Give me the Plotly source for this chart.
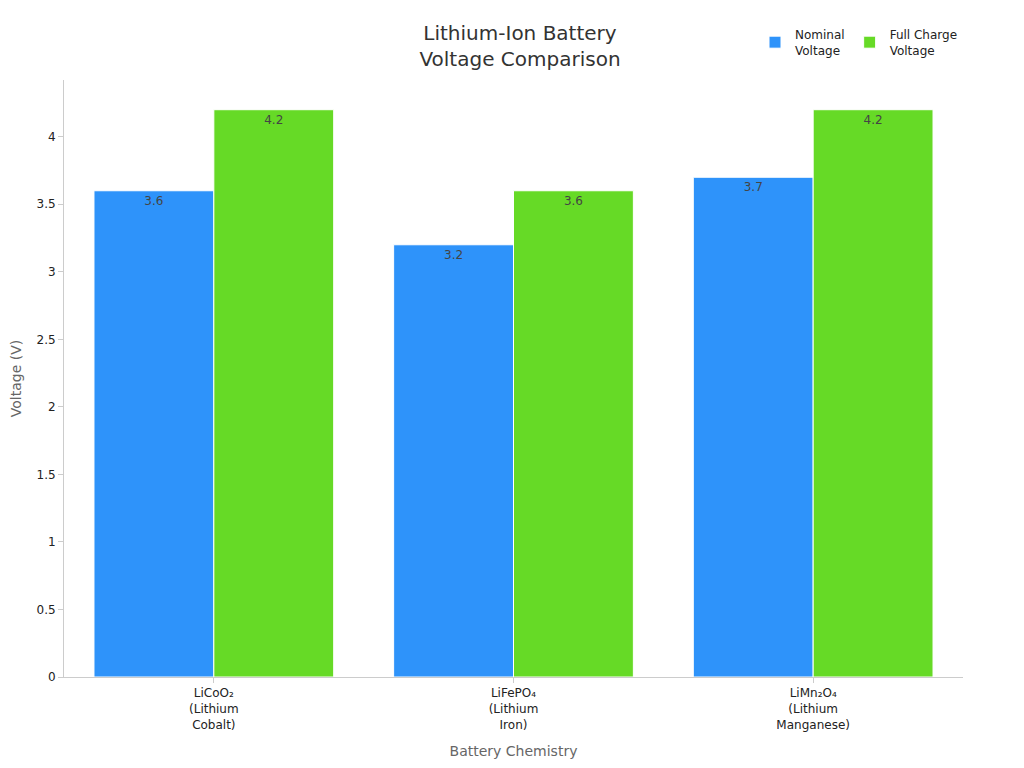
import plotly.graph_objs as go

chemistries = ["LiCoO₂<br>(Lithium<br>Cobalt)", "LiFePO₄<br>(Lithium<br>Iron)", "LiMn₂O₄<br>(Lithium<br>Manganese)"]
nominal_voltage = [3.6, 3.2, 3.7]
full_charge_voltage = [4.2, 3.6, 4.2]

fig = go.Figure()
fig.add_trace(go.Bar(x=chemistries, y=nominal_voltage, name="Nominal<br>Voltage",
                     marker_color="#2E93FA", marker_line_color="white", marker_line_width=1,
                     text=nominal_voltage, textposition="inside", insidetextanchor="end",
                     textfont=dict(color="#444444", size=12)))
fig.add_trace(go.Bar(x=chemistries, y=full_charge_voltage, name="Full Charge<br>Voltage",
                     marker_color="#66DA26", marker_line_color="white", marker_line_width=1,
                     text=full_charge_voltage, textposition="inside", insidetextanchor="end",
                     textfont=dict(color="#444444", size=12)))

fig.update_layout(
    title=dict(text="Lithium-Ion Battery<br>Voltage Comparison", x=0.5, xanchor="center",
               y=0.958, font=dict(size=20, color="#333333")),
    font=dict(family="DejaVu Sans", size=12, color="#222222"),
    barmode="group", bargap=0.2, bargroupgap=0,
    plot_bgcolor="white", paper_bgcolor="white",
    width=1024, height=768,
    margin=dict(l=56, r=69, t=72, b=99, autoexpand=False),
    legend=dict(orientation="h", x=1, xanchor="right", y=1.025, yanchor="bottom",
                font=dict(size=12)),
    uniformtext=dict(minsize=12, mode="show"),
)
fig.update_xaxes(title=dict(text="Battery Chemistry", font=dict(size=14, color="#666666")),
                 showline=True, linecolor="#cccccc", ticks="outside", tickcolor="#cccccc",
                 automargin=False)
fig.update_yaxes(title=dict(text="Voltage (V)", font=dict(size=14, color="#666666")),
                 range=[0, 4.42], dtick=0.5, showgrid=False, showline=True, linecolor="#cccccc",
                 ticks="outside", tickcolor="#cccccc", zeroline=False, automargin=False)

fig.write_html("out.html")
